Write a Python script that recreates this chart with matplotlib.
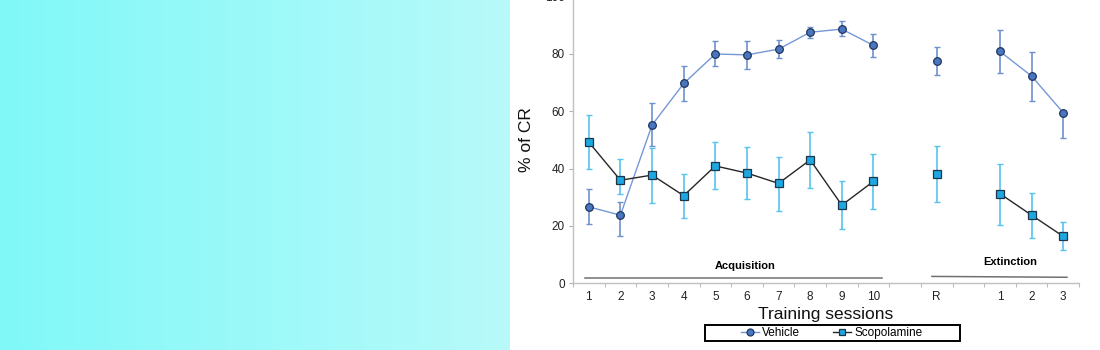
import matplotlib.pyplot as plt
from matplotlib.patches import Rectangle
import numpy as np

plt.rcParams['font.family'] = ['Liberation Sans', 'DejaVu Sans']

# session labels along the x axis ('' = empty slot between phases)
SESSIONS = ['1', '2', '3', '4', '5', '6', '7', '8', '9', '10', '', 'R', '', '1', '2', '3']

NAN = np.nan
VEHICLE = [26.6, 23.7, 55.2, 69.7, 80.0, 79.7, 81.7, 87.6, 88.7, 83.0, NAN, 77.6, NAN, 80.9, 72.3, 59.5]
VEHICLE_UP = [6.1, 4.5, 7.8, 6.0, 4.4, 4.7, 3.3, 1.7, 2.9, 4.1, NAN, 4.7, NAN, 7.4, 8.5, 0.0]
VEHICLE_DN = [5.9, 7.4, 7.3, 6.1, 4.3, 4.9, 3.2, 1.9, 2.5, 4.0, NAN, 4.9, NAN, 7.4, 8.6, 8.7]

SCOPOLAMINE = [49.2, 35.9, 37.7, 30.5, 40.9, 38.4, 34.8, 43.0, 27.2, 35.5, NAN, 38.0, NAN, 31.2, 23.7, 16.3]
SCOPOLAMINE_UP = [9.4, 7.5, 9.4, 7.6, 8.2, 9.2, 9.3, 9.9, 8.4, 9.4, NAN, 9.9, NAN, 10.5, 7.9, 5.0]
SCOPOLAMINE_DN = [9.4, 4.9, 9.6, 7.7, 8.1, 9.0, 9.5, 9.9, 8.5, 9.5, NAN, 9.7, NAN, 10.9, 7.9, 4.8]

# which slots are joined by a line
PHASES = [slice(0, 10), slice(11, 12), slice(13, 16)]

W, H = 1100, 350
fig = plt.figure(figsize=(W / 100, H / 100), dpi=100)

# cyan gradient band on the left
bg = fig.add_axes([0, 0, 510 / W, 1])
grad = np.linspace(0, 1, 256)
c0 = np.array([128, 248, 248]) / 255
c1 = np.array([184, 250, 250]) / 255
img = c0[None, :] + (c1 - c0)[None, :] * grad[:, None]
bg.imshow(img[None, :, :], aspect='auto', extent=[0, 1, 0, 1])
bg.axis('off')

ax = fig.add_axes([573 / W, 67 / H, 506 / W, 286.25 / H])
x = np.arange(len(SESSIONS))

def draw_series(mean, up, dn, line_col, face, edge, err_col, marker):
    mean = np.array(mean)
    for ph in PHASES:
        ax.plot(x[ph], mean[ph], color=line_col, lw=1.0, zorder=3)
    ax.errorbar(x, mean, yerr=[dn, up], fmt='none', ecolor=err_col,
                elinewidth=1.2, capsize=2, capthick=1.0, zorder=2)
    ax.plot(x, mean, ls='none', marker=marker, ms=5.5, mfc=face, mec=edge,
            mew=0.9, zorder=4)

draw_series(VEHICLE, VEHICLE_UP, VEHICLE_DN, '#7598d6', '#4a76c0', '#1f3660', '#6d91cc', 'o')
draw_series(SCOPOLAMINE, SCOPOLAMINE_UP, SCOPOLAMINE_DN, '#262626', '#1ea8e2', '#1d3548', '#55c4ee', 's')

ax.set_xlim(-0.5, len(SESSIONS) - 0.5)
ax.set_ylim(0, 100)
ax.set_yticks(range(0, 101, 20))
ax.set_xticks(x)
ax.set_xticklabels(SESSIONS)
ax.set_xticks(np.arange(-0.5, len(SESSIONS)), minor=True)
ax.tick_params(axis='x', which='major', length=0, pad=5.5, labelsize=8.5, colors='#222222')
ax.tick_params(axis='x', which='minor', length=3, color='#b0b0b0', direction='out')
ax.tick_params(axis='y', length=3, color='#b0b0b0', labelsize=8.5, labelcolor='#222222', pad=3)

for s in ['top', 'right']:
    ax.spines[s].set_visible(False)
for s in ['left', 'bottom']:
    ax.spines[s].set_color('#c0c0c0')
    ax.spines[s].set_linewidth(1.0)

ax.set_xlabel('Training sessions', fontsize=12.5, labelpad=3, color='#111111')
ax.set_ylabel('% of CR', fontsize=12.5, labelpad=8, color='#111111')

# phase brackets
ax.plot([-0.12, 9.28], [1.6, 1.6], color='#707070', lw=1.1, clip_on=False)
ax.plot([10.85, 15.12], [2.3, 2.0], color='#707070', lw=1.1, clip_on=False)
ax.text(4.94, 6.0, 'Acquisition', ha='center', va='center', fontsize=8, fontweight='bold')
ax.text(13.33, 7.2, 'Extinction', ha='center', va='center', fontsize=8, fontweight='bold')

# legend in a boxed strip under the axis title
h1, = ax.plot([], [], color='#7598d6', lw=1.0, marker='o', ms=5, mfc='#4a76c0', mec='#1f3660', mew=0.9)
h2, = ax.plot([], [], color='#262626', lw=1.0, marker='s', ms=5, mfc='#1ea8e2', mec='#1d3548', mew=0.9)
fig.legend([h1, h2], ['Vehicle', 'Scopolamine'], loc='center', ncol=2,
           bbox_to_anchor=(832 / W, 1 - 333 / H), frameon=False, fontsize=8.5,
           handlelength=1.5, handletextpad=0.3, columnspacing=2.8, borderpad=0)
fig.add_artist(Rectangle((705 / W, 1 - 341 / H), 255 / W, 16 / H,
                         transform=fig.transFigure, fill=False, ec='black', lw=1.4))

fig.savefig('out.png', dpi=100)
